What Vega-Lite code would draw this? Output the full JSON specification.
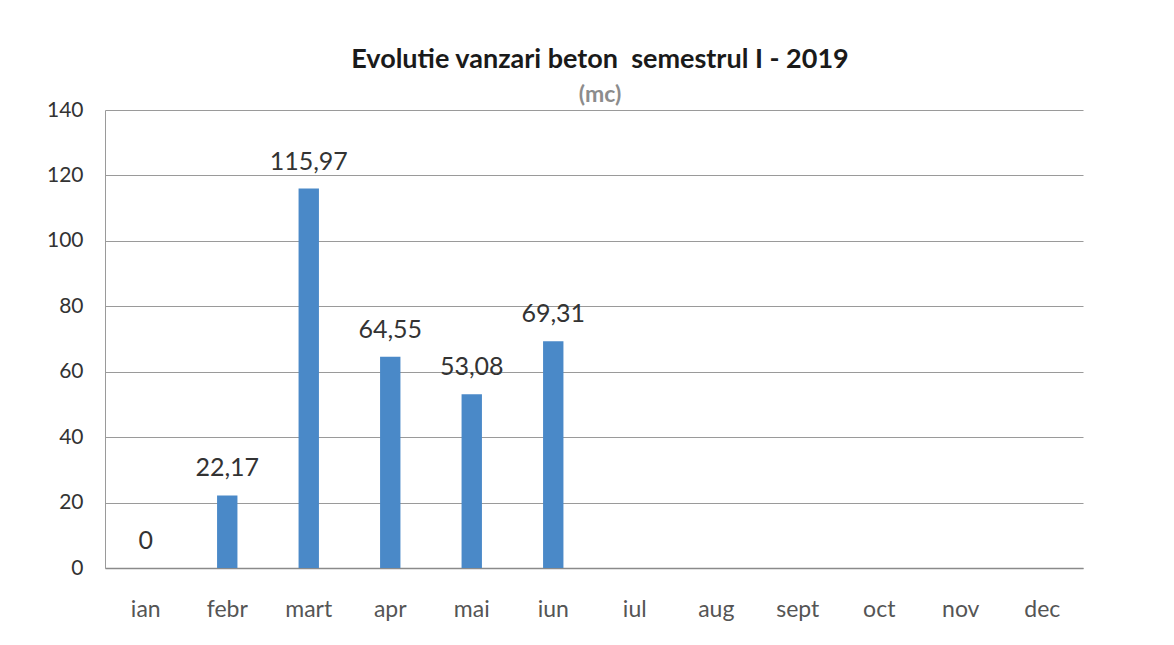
{
  "$schema": "https://vega.github.io/schema/vega-lite/v6.json",
  "width": 978,
  "height": 458,
  "autosize": {"type": "none"},
  "padding": {"left": 105, "top": 110, "right": 91, "bottom": 77},
  "background": "white",
  "config": {
    "font": "Lato",
    "view": {"stroke": null}
  },
  "title": {
    "text": "Evolutie vanzari beton\u00a0 semestrul I - 2019",
    "subtitle": "(mc)",
    "anchor": "middle",
    "font": "Lato",
    "fontSize": 27,
    "fontWeight": "bold",
    "color": "#1a1a1a",
    "subtitleFont": "Lato",
    "subtitleFontSize": 23,
    "subtitleFontWeight": "bold",
    "subtitleColor": "#8c8c8c",
    "subtitlePadding": 10,
    "offset": -9,
    "dx": 6
  },
  "data": {
    "values": [
      {"luna": "ian", "valoare": 0, "eticheta": "0"},
      {"luna": "febr", "valoare": 22.17, "eticheta": "22,17"},
      {"luna": "mart", "valoare": 115.97, "eticheta": "115,97"},
      {"luna": "apr", "valoare": 64.55, "eticheta": "64,55"},
      {"luna": "mai", "valoare": 53.08, "eticheta": "53,08"},
      {"luna": "iun", "valoare": 69.31, "eticheta": "69,31"},
      {"luna": "iul", "valoare": null, "eticheta": ""},
      {"luna": "aug", "valoare": null, "eticheta": ""},
      {"luna": "sept", "valoare": null, "eticheta": ""},
      {"luna": "oct", "valoare": null, "eticheta": ""},
      {"luna": "nov", "valoare": null, "eticheta": ""},
      {"luna": "dec", "valoare": null, "eticheta": ""}
    ]
  },
  "encoding": {
    "x": {
      "field": "luna",
      "type": "nominal",
      "sort": null,
      "scale": {
        "domain": ["ian", "febr", "mart", "apr", "mai", "iun", "iul", "aug", "sept", "oct", "nov", "dec"],
        "paddingInner": 0.75,
        "paddingOuter": 0.375
      },
      "axis": {
        "title": null,
        "labelAngle": 0,
        "labelFont": "Lato",
        "labelFontSize": 23,
        "labelColor": "#555555",
        "labelPadding": 30,
        "ticks": false,
        "domainColor": "#8a8a8a",
        "domainWidth": 1.5
      }
    },
    "y": {
      "field": "valoare",
      "type": "quantitative",
      "scale": {"domain": [0, 140]},
      "axis": {
        "title": null,
        "values": [0, 20, 40, 60, 80, 100, 120, 140],
        "labelFont": "Lato",
        "labelFontSize": 21,
        "labelColor": "#333333",
        "labelPadding": 22,
        "ticks": false,
        "domain": true,
        "domainColor": "#9a9a9a",
        "gridColor": "#9a9a9a",
        "gridWidth": 1.2
      }
    }
  },
  "layer": [
    {
      "mark": {"type": "bar", "color": "#4A89C8"}
    },
    {
      "mark": {
        "type": "text",
        "baseline": "bottom",
        "dy": -14,
        "font": "Lato",
        "fontSize": 25,
        "color": "#333333"
      },
      "encoding": {
        "text": {"field": "eticheta", "type": "nominal"}
      }
    }
  ]
}
